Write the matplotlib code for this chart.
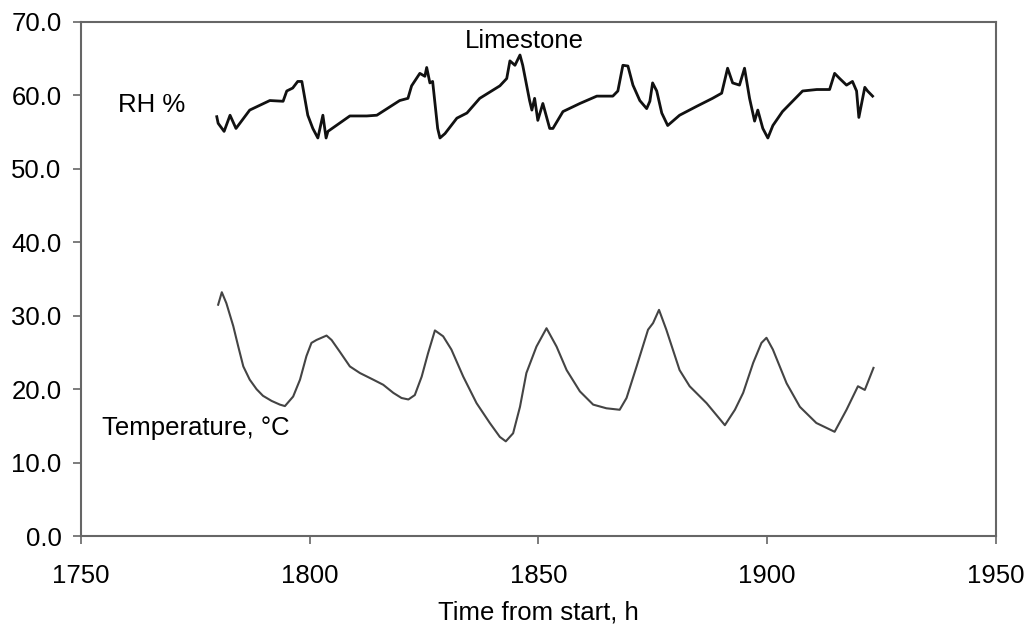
import matplotlib
matplotlib.use("Agg")
import matplotlib.pyplot as plt

plt.rcParams['font.family'] = ['Liberation Sans', 'DejaVu Sans']

# Relative humidity (%) vs time (h)
rh_time = [1779.7, 1780.0, 1781.3, 1782.6, 1783.9, 1786.9, 1791.3, 1794.2, 1795.0, 1796.3,
           1797.4, 1798.3, 1799.6, 1800.7, 1801.8, 1802.9, 1803.6, 1804.0, 1808.8, 1812.5,
           1814.7, 1819.7, 1821.5, 1822.3, 1824.1, 1825.2, 1825.6, 1826.3, 1826.9, 1828.0,
           1828.5, 1829.6, 1832.2, 1834.4, 1837.2, 1841.6, 1843.1, 1843.8, 1844.9, 1846.0,
           1846.6, 1848.1, 1848.6, 1849.2, 1849.9, 1851.0, 1852.5, 1853.2, 1855.4, 1859.1,
           1862.8, 1866.3, 1867.4, 1868.5, 1869.6, 1870.7, 1872.2, 1873.7, 1874.4, 1875.0,
           1875.9, 1877.0, 1878.3, 1880.9, 1884.6, 1888.1, 1890.1, 1891.4, 1892.5, 1894.0,
           1895.1, 1896.2, 1897.3, 1898.0, 1899.1, 1900.2, 1901.3, 1903.4, 1907.8, 1910.9,
           1913.7, 1914.8, 1915.9, 1917.4, 1918.7, 1919.6, 1920.1, 1921.4, 1922.0, 1923.1]
rh_value = [57.1, 56.2, 55.1, 57.3, 55.5, 58.0, 59.3, 59.2, 60.6, 61.0,
            61.9, 61.9, 57.3, 55.5, 54.2, 57.3, 54.2, 55.1, 57.2, 57.2,
            57.3, 59.3, 59.6, 61.3, 63.0, 62.6, 63.8, 61.7, 61.9, 55.5,
            54.2, 54.8, 56.9, 57.6, 59.6, 61.3, 62.3, 64.7, 64.1, 65.5,
            64.1, 59.3, 58.0, 59.6, 56.6, 58.9, 55.5, 55.5, 57.8, 58.9,
            59.9, 59.9, 60.6, 64.1, 64.0, 61.4, 59.3, 58.2, 59.2, 61.7,
            60.6, 57.6, 55.9, 57.3, 58.5, 59.6, 60.3, 63.7, 61.7, 61.4,
            63.7, 59.6, 56.5, 58.0, 55.5, 54.2, 55.9, 57.8, 60.6, 60.8,
            60.8, 63.0, 62.3, 61.4, 61.9, 60.6, 57.0, 61.1, 60.6, 59.9]

# Temperature (°C) vs time (h)
temp_time = [1780.0, 1780.8, 1781.8, 1783.3, 1784.4, 1785.5, 1786.9, 1788.4, 1789.8, 1791.7,
             1793.5, 1794.6, 1796.4, 1797.9, 1799.3, 1800.4, 1801.5, 1802.6, 1803.7, 1804.8,
             1806.6, 1808.8, 1811.0, 1813.9, 1816.1, 1818.3, 1820.1, 1821.6, 1823.0, 1824.5,
             1825.9, 1827.4, 1829.2, 1831.0, 1833.6, 1836.5, 1839.4, 1841.6, 1842.9, 1844.5,
             1846.0, 1847.4, 1849.6, 1851.8, 1854.0, 1856.2, 1859.1, 1862.0, 1864.9, 1867.8,
             1869.3, 1871.5, 1874.0, 1875.1, 1876.4, 1878.0, 1880.9, 1883.1, 1886.8, 1890.8,
             1893.0, 1894.8, 1897.0, 1898.8, 1899.9, 1901.3, 1904.3, 1907.2, 1910.8, 1914.8,
             1917.4, 1919.9, 1921.4, 1923.3]
temp_value = [31.5, 33.2, 31.7, 28.6, 25.8, 23.1, 21.3, 20.0, 19.1, 18.4,
              17.9, 17.7, 19.0, 21.3, 24.5, 26.3, 26.7, 27.0, 27.3, 26.7,
              25.1, 23.1, 22.2, 21.3, 20.6, 19.5, 18.8, 18.6, 19.2, 21.7,
              24.9, 28.0, 27.2, 25.4, 21.7, 18.1, 15.4, 13.5, 12.9, 14.0,
              17.6, 22.2, 25.8, 28.3, 25.8, 22.6, 19.7, 17.9, 17.4, 17.2,
              18.8, 23.1, 28.1, 29.0, 30.8, 28.1, 22.6, 20.4, 18.1, 15.1,
              17.2, 19.5, 23.6, 26.3, 27.0, 25.4, 20.8, 17.6, 15.4, 14.2,
              17.2, 20.4, 19.9, 22.9]

fig = plt.figure(figsize=(10.30, 6.27), dpi=100)
ax = fig.add_axes([0.0786, 0.145, 0.888, 0.82])

ax.plot(rh_time, rh_value, color='#111111', linewidth=2.0)
ax.plot(temp_time, temp_value, color='#444444', linewidth=1.5)

ax.set_xlim(1750, 1950)
ax.set_ylim(0, 70)
ax.set_xticks([1750, 1800, 1850, 1900, 1950])
ax.set_yticks([0, 10, 20, 30, 40, 50, 60, 70])
ax.set_yticklabels([f"{v:.1f}" for v in [0, 10, 20, 30, 40, 50, 60, 70]])

for sp in ax.spines.values():
    sp.set_color('#666666')
    sp.set_linewidth(1.5)
ax.tick_params(axis='both', colors='#666666', labelcolor='black', labelsize=18.5,
               length=6, width=1.2, direction='out')
ax.tick_params(axis='y', pad=8)
ax.tick_params(axis='x', pad=14)

ax.set_xlabel('Time from start, h', fontsize=18.5, labelpad=9)

ax.text(1847.0, 67.4, 'Limestone', fontsize=18.5, ha='center', va='center')
ax.text(1765.5, 58.7, 'RH %', fontsize=18.5, ha='center', va='center')
ax.text(1775.1, 14.7, 'Temperature, °C', fontsize=18.5, ha='center', va='center')

fig.savefig('out.png', dpi=100)
